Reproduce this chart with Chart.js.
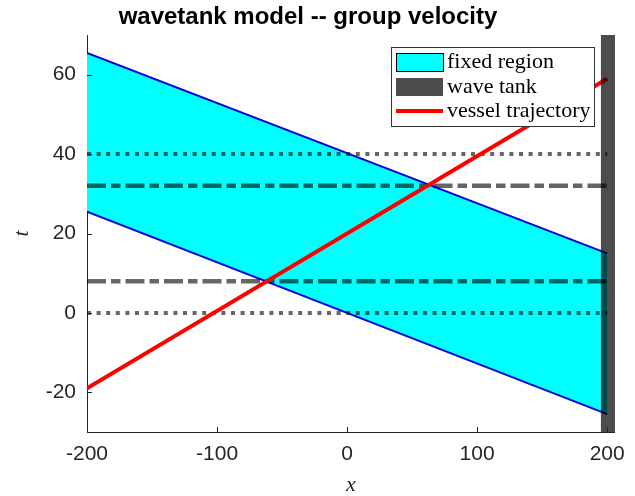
<!DOCTYPE html>
<html>
<head>
<meta charset="utf-8">
<script src="https://cdn.jsdelivr.net/npm/chart.js@4"></script>
<style>
  html, body { margin: 0; padding: 0; background: #fff; }
  #wrap { width: 635px; height: 496px; }
</style>
</head>
<body>
<div id="wrap"><canvas id="myChart"></canvas></div>
<script>
// axis ticks
const xTicks = [-200, -100, 0, 100, 200];
const tTicks = [-20, 0, 20, 40, 60];

// fixed region (between two group-velocity lines)
const regionX = [-200, 200];
const regionUpper = [65.5, 15];
const regionLower = [25.5, -25.5];

// vessel trajectory
const vesselX = [-200, 200];
const vesselT = [-19, 59];

// wave tank strip
const tankX = [195, 207];
const tankTop = [70, 70];

// horizontal reference lines
const lineX = [-200, 200];
const dottedT = [0, 40];
const dashDotT = [8, 32];

const legendItems = ['fixed region', 'wave tank', 'vessel trajectory'];
const titleText = 'wavetank model -- group velocity';

function pts(xs, ys) {
  return xs.map((x, i) => ({ x: x, y: ys[i] }));
}

const datasets = [
  {
    label: 'upper', data: pts(regionX, regionUpper), order: 4,
    borderColor: '#0000dd', borderWidth: 2, backgroundColor: '#00ffff', fill: 1
  },
  {
    label: 'lower', data: pts(regionX, regionLower), order: 3,
    borderColor: '#0000dd', borderWidth: 2, fill: false
  }
];
dottedT.forEach(t => datasets.push({
  label: 'dot' + t, data: pts(lineX, [t, t]), order: 2,
  borderColor: 'rgba(0,0,0,0.6)', borderWidth: 4, borderDash: [4, 5.6], fill: false
}));
dashDotT.forEach(t => datasets.push({
  label: 'dashdot' + t, data: pts(lineX, [t, t]), order: 2,
  borderColor: 'rgba(0,0,0,0.6)', borderWidth: 4.5, borderDash: [19, 5, 9.5, 5], fill: false
}));
datasets.push({
  label: 'vessel', data: pts(vesselX, vesselT), order: 1,
  borderColor: '#ff0000', borderWidth: 4, fill: false
});
datasets.push({
  label: 'tank', data: pts(tankX, tankTop), order: 0,
  borderWidth: 0, borderColor: 'rgba(0,0,0,0)', backgroundColor: 'rgba(0,0,0,0.7)', fill: 'start'
});

const extras = {
  id: 'extras',
  afterDraw(chart) {
    const ctx = chart.ctx;
    const xs = chart.scales.x, ys = chart.scales.y;
    const a = chart.chartArea;
    ctx.save();
    // inward tick marks
    ctx.strokeStyle = '#262626';
    ctx.lineWidth = 1;
    ctx.beginPath();
    xTicks.forEach(v => {
      const px = Math.round(xs.getPixelForValue(v)) + 0.5;
      ctx.moveTo(px, a.bottom); ctx.lineTo(px, a.bottom - 5);
    });
    tTicks.forEach(v => {
      const py = Math.round(ys.getPixelForValue(v)) + 0.5;
      ctx.moveTo(a.left, py); ctx.lineTo(a.left + 5, py);
    });
    ctx.stroke();

    // title
    ctx.fillStyle = '#000';
    ctx.font = 'bold 24px "Liberation Sans", Arial, sans-serif';
    ctx.textAlign = 'center';
    ctx.textBaseline = 'alphabetic';
    ctx.fillText(titleText, 308, 24);

    // legend
    const bx = 391, by = 47, bw = 203, bh = 79;
    ctx.fillStyle = '#fff';
    ctx.fillRect(bx, by, bw, bh);
    ctx.strokeStyle = '#333';
    ctx.strokeRect(bx + 0.5, by + 0.5, bw, bh);
    const rowY = [62, 87, 111];
    // swatches
    ctx.fillStyle = '#00ffff';
    ctx.fillRect(396, rowY[0] - 9, 47, 18);
    ctx.strokeStyle = '#000';
    ctx.strokeRect(396.5, rowY[0] - 8.5, 47, 18);
    ctx.fillStyle = 'rgb(77,77,77)';
    ctx.fillRect(396, rowY[1] - 9, 47, 18);
    ctx.strokeStyle = '#ff0000';
    ctx.lineWidth = 4;
    ctx.beginPath();
    ctx.moveTo(396, rowY[2]); ctx.lineTo(443, rowY[2]);
    ctx.stroke();
    ctx.fillStyle = '#000';
    ctx.font = '22px "Liberation Serif", "Times New Roman", serif';
    ctx.textAlign = 'left';
    ctx.textBaseline = 'middle';
    legendItems.forEach((s, i) => ctx.fillText(s, 447, rowY[i]));
    ctx.restore();
  }
};

new Chart(document.getElementById('myChart'), {
  type: 'line',
  data: { datasets: datasets },
  options: {
    responsive: true,
    maintainAspectRatio: false,
    animation: false,
    elements: { point: { radius: 0 }, line: { tension: 0 } },
    layout: { padding: { top: 35, right: 20, left: 0, bottom: 0 } },
    plugins: {
      legend: { display: false },
      tooltip: { enabled: false },
      title: { display: false },
      filler: { propagate: false }
    },
    scales: {
      x: {
        type: 'linear', min: -200, max: 206,
        afterBuildTicks: s => { s.ticks = xTicks.map(v => ({ value: v })); },
        afterFit: s => { s.height = 64; },
        grid: { display: false, drawTicks: false },
        border: { display: true, color: '#262626', width: 1 },
        ticks: {
          padding: 10, color: '#262626',
          font: { family: '"Liberation Sans", Arial, sans-serif', size: 21 },
          maxRotation: 0
        },
        title: {
          display: true, text: 'x', color: '#262626', padding: 0,
          font: { family: '"Liberation Serif", serif', size: 22, style: 'italic', lineHeight: 1 }
        }
      },
      y: {
        type: 'linear', min: -30, max: 70,
        afterBuildTicks: s => { s.ticks = tTicks.map(v => ({ value: v })); },
        afterFit: s => { s.width = 87; },
        grid: { display: false, drawTicks: false },
        border: { display: true, color: '#262626', width: 1 },
        ticks: {
          padding: 11, color: '#262626',
          font: { family: '"Liberation Sans", Arial, sans-serif', size: 21 }
        },
        title: {
          display: true, text: 't', color: '#262626', padding: { top: 9, bottom: 0 },
          font: { family: '"Liberation Serif", serif', size: 22, style: 'italic' }
        }
      }
    }
  },
  plugins: [extras]
});
</script>
</body>
</html>
